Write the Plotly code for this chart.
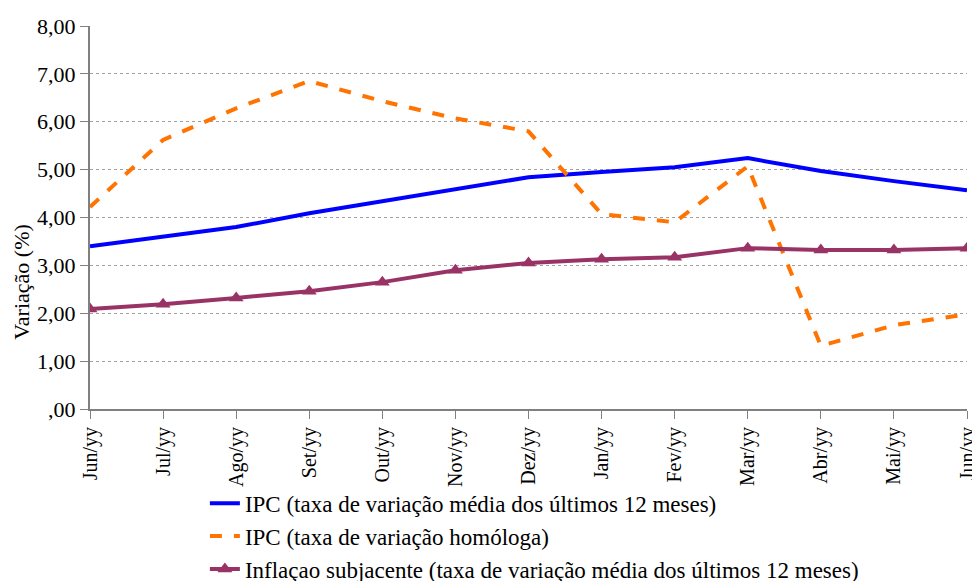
import plotly.graph_objects as go

months = ["Jun/yy", "Jul/yy", "Ago/yy", "Set/yy", "Out/yy", "Nov/yy", "Dez/yy",
          "Jan/yy", "Fev/yy", "Mar/yy", "Abr/yy", "Mai/yy", "Jun/yy"]
ipc_media = [3.40, 3.59, 3.80, 4.09, 4.34, 4.61, 4.84, 4.95, 5.05, 5.24, 4.97, 4.76, 4.57]
ipc_homologa = [4.22, 5.62, 6.28, 6.85, 6.43, 6.07, 5.80, 4.07, 3.90, 5.07, 1.32, 1.75, 1.98]
inflacao_subj = [2.09, 2.19, 2.32, 2.46, 2.65, 2.90, 3.05, 3.13, 3.17, 3.36, 3.32, 3.32, 3.36]
y_ticks = [0, 1, 2, 3, 4, 5, 6, 7, 8]
y_ticktext = [",00", "1,00", "2,00", "3,00", "4,00", "5,00", "6,00", "7,00", "8,00"]

x = list(range(len(months)))
font = "Liberation Serif"

fig = go.Figure()
fig.add_trace(go.Scatter(x=x, y=ipc_media, mode="lines", legendgroup="a",
                         name="IPC (taxa de variação média dos últimos 12 meses)",
                         line=dict(color="#0000FF", width=4)))
fig.add_trace(go.Scatter(x=x, y=ipc_homologa, mode="lines", legendgroup="b",
                         name="IPC (taxa de variação homóloga)",
                         line=dict(color="#FF7300", width=4, dash="dash")))
fig.add_trace(go.Scatter(x=x, y=inflacao_subj, mode="lines+markers", legendgroup="c",
                         name="Inflaçao subjacente (taxa de variação média dos últimos 12 meses)",
                         line=dict(color="#993366", width=4),
                         marker=dict(symbol="triangle-up", size=13, color="#993366")))

# the page body has an ~8px margin, so the figure is sized/margined to compensate
fig.update_layout(
    width=972, height=573,
    margin=dict(l=82, r=13, t=18, b=172, autoexpand=False),
    paper_bgcolor="white", plot_bgcolor="white",
    font=dict(family=font, color="black"),
    showlegend=True,
    legend=dict(x=0.131, xanchor="left", y=-0.19, yanchor="top",
                font=dict(size=23, family=font), orientation="v",
                bgcolor="rgba(0,0,0,0)", tracegroupgap=0),
    xaxis=dict(tickmode="array", tickvals=x, ticktext=months, tickangle=-90,
               range=[0, len(months) - 1], showgrid=False, automargin=False,
               showline=True, linecolor="#808080", linewidth=2,
               ticks="outside", ticklen=8, tickcolor="#808080",
               tickfont=dict(size=20, family=font), zeroline=False),
    yaxis=dict(tickmode="array", tickvals=y_ticks, ticktext=y_ticktext,
               range=[0, 8], showgrid=True, gridcolor="#A0A0A0", griddash="dot", gridwidth=1,
               showline=True, linecolor="#808080", linewidth=2, automargin=False,
               ticks="outside", ticklen=8, tickcolor="#808080",
               tickfont=dict(size=22, family=font), zeroline=False),
    annotations=[dict(text="Variação (%)", textangle=-90, xref="paper", yref="paper",
                      x=-0.0775, y=0.33, xanchor="center", yanchor="middle",
                      showarrow=False, font=dict(size=22, family=font, color="black"))],
)

fig.write_html("out.html")
